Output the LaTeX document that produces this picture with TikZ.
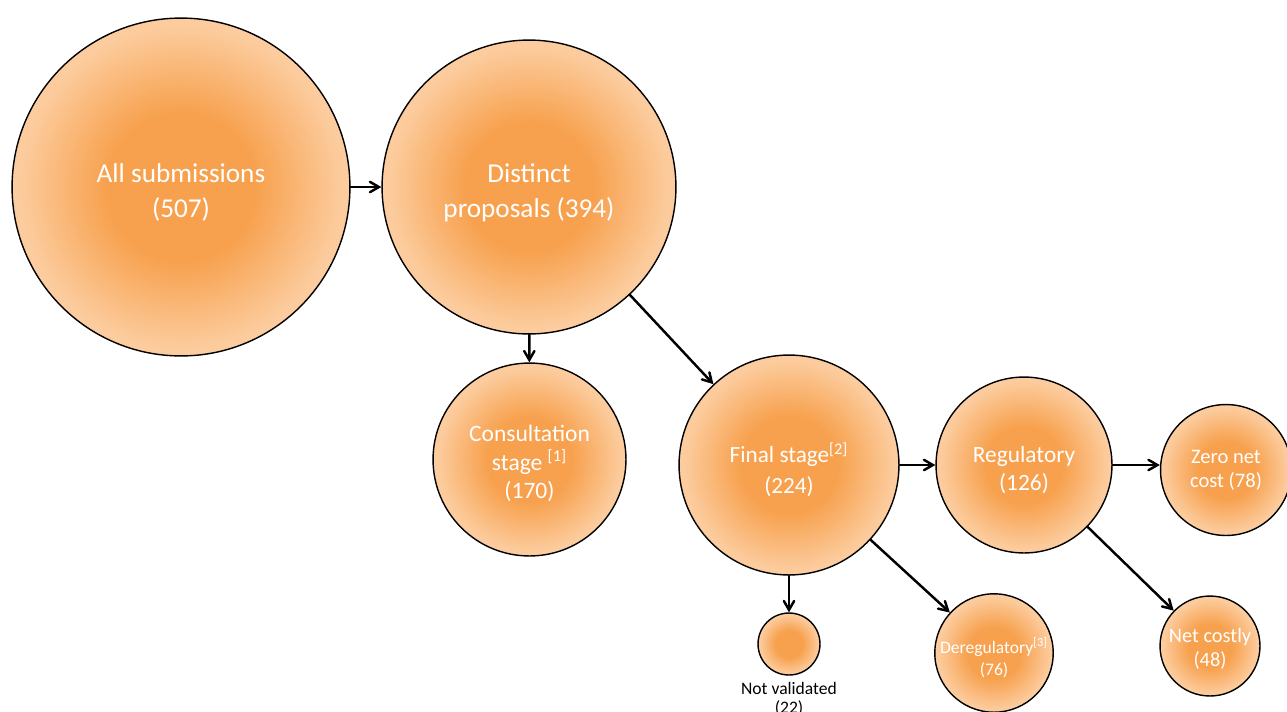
\documentclass[tikz,border=0pt]{standalone}
\usepackage{fontspec}
\setmainfont{Carlito}
\usetikzlibrary{arrows}
\definecolor{bubin}{RGB}{247,161,78}
\definecolor{bubout}{RGB}{252,204,158}
\pgfdeclareradialshading{bubshade}{\pgfpoint{0bp}{0bp}}{color(0bp)=(bubin); color(11bp)=(bubin); color(24bp)=(bubout); color(50bp)=(bubout)}
\newcommand{\lift}[1]{\rule{0pt}{#1em}}

\begin{document}
\begin{tikzpicture}[line cap=round,line join=round,>=angle 60,x=0.02cm,y=-0.02cm,
	bubble/.style={circle,draw=black,line width=0.8pt,shading=bubshade,text=white,align=center,inner sep=0pt,minimum size=#1*0.04cm},
	flow/.style={->,line width=1.4pt}]
		\clip (0,0) rectangle (1287,711);
		\node[bubble=169,font=\fontsize{15.5}{20}\selectfont] (all) at (181,187) {\lift{1.12}All submissions\\(507)};
		\node[bubble=147,font=\fontsize{15.5}{20}\selectfont] (dist) at (529,187) {\lift{1.12}Distinct\\proposals (394)};
		\node[bubble=96.5,font=\fontsize{13.4}{16.2}\selectfont] (cons) at (529.5,459.5) {\lift{1.05}Consultation\\stage \textsuperscript{[1]}\\(170)};
		\node[bubble=110,font=\fontsize{13.2}{17.6}\selectfont] (final) at (789,465) {\lift{1.25}Final stage\textsuperscript{[2]}\\(224)};
		\node[bubble=88,font=\fontsize{13.3}{15.9}\selectfont] (reg) at (1024,465) {\lift{1.12}Regulatory\\(126)};
		\node[bubble=65.5,font=\fontsize{11.7}{13.6}\selectfont] (zero) at (1226,470) {Zero net\\cost (78)};
		\node[bubble=31] (notval) at (789,644) {};
		\node[bubble=58,font=\fontsize{10}{12.5}\selectfont] (dereg) at (994,653) {\lift{1.4}Deregulatory\textsuperscript{[3]}\\(76)};
		\node[bubble=50,font=\fontsize{11.6}{13.6}\selectfont] (netc) at (1210,646) {\lift{1.0}Net costly\\(48)};
		\node[font=\fontsize{10}{10.5}\selectfont,align=center,inner sep=0pt,anchor=north] (nvtext) at (789,682) {Not validated\\(22)};
		\draw[flow] (all) -- (dist);
		\draw[flow] (dist) -- (cons);
		\draw[flow] (dist) -- (final);
		\draw[flow] (final) -- (reg);
		\draw[flow] (reg.east) -- (reg.east -| zero.west);
		\draw[flow] (final) -- (notval);
		\draw[flow] (final) -- (dereg);
		\draw[flow] (reg) -- (netc);
\end{tikzpicture}
\end{document}
